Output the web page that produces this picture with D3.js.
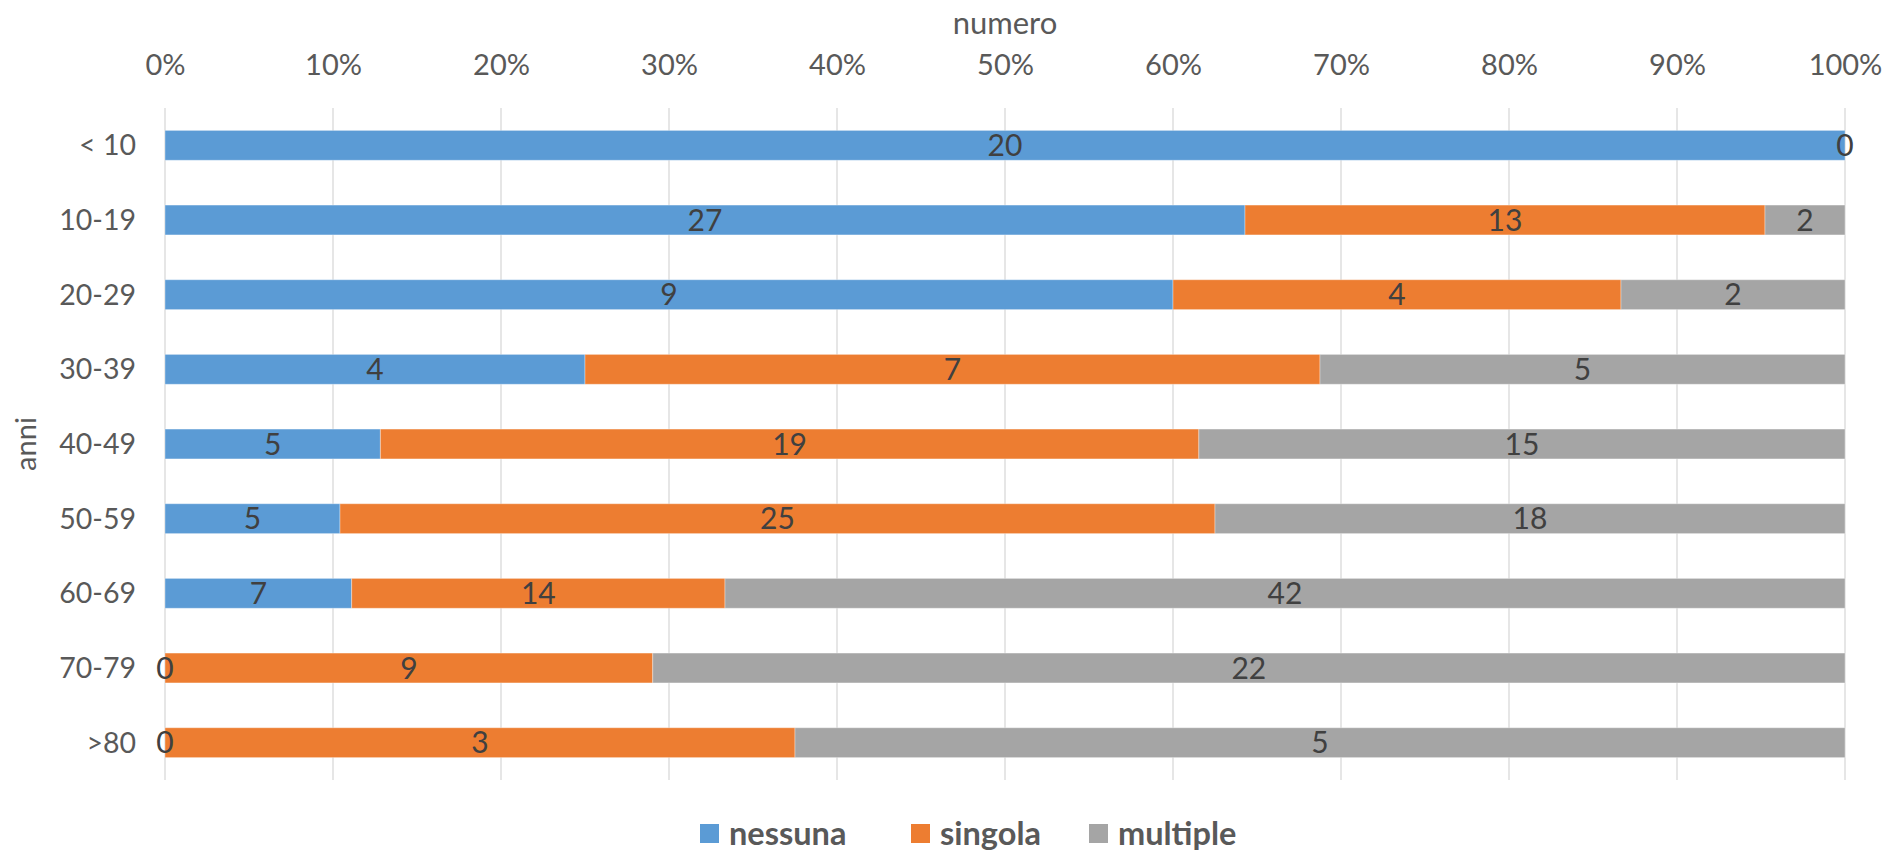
<!DOCTYPE html>
<html>
<head>
<meta charset="utf-8">
<script src="https://cdn.jsdelivr.net/npm/d3@7/dist/d3.min.js"></script>
<style>
  html, body { margin: 0; padding: 0; background: #fff; }
  svg { display: block; }
  text { font-family: Lato, "Open Sans", sans-serif; }
</style>
</head>
<body>
<svg id="chart" width="1888" height="852"></svg>
<script>
const categories = ["< 10", "10-19", "20-29", "30-39", "40-49", "50-59", "60-69", "70-79", ">80"];
const seriesNames = ["nessuna", "singola", "multiple"];
const nessuna  = [20, 27, 9, 4, 5, 5, 7, 0, 0];
const singola  = [null, 13, 4, 7, 19, 25, 14, 9, 3];
const multiple = [0, 2, 2, 5, 15, 18, 42, 22, 5];
const tickValues = [0, 0.1, 0.2, 0.3, 0.4, 0.5, 0.6, 0.7, 0.8, 0.9, 1.0];
const colors = ["#5B9BD5", "#ED7D31", "#A5A5A5"];
const xTitle = "numero";
const yTitle = "anni";

const seriesValues = [nessuna, singola, multiple];

const svg = d3.select("#chart");
const pLeft = 165, pRight = 1845, pTop = 108, pBottom = 780;

const x = d3.scaleLinear().domain([0, 1]).range([pLeft, pRight]);
const y = d3.scaleBand().domain(categories).range([pTop, pBottom]).paddingInner(0.6).paddingOuter(0.3);

// gridlines
svg.append("g").selectAll("line").data(tickValues).join("line")
  .attr("x1", d => x(d)).attr("x2", d => x(d))
  .attr("y1", pTop).attr("y2", pBottom)
  .attr("stroke", "#D9D9D9").attr("stroke-width", 1.3);

// top axis labels
const xAxis = d3.axisTop(x).tickValues(tickValues).tickFormat(d3.format(".0%")).tickSize(0).tickPadding(0);
const gx = svg.append("g").attr("transform", `translate(0,${pTop})`).call(xAxis);
gx.select(".domain").remove();
gx.selectAll("text")
  .attr("y", 65 - pTop).attr("dy", "0.35em")
  .attr("fill", "#595959").style("font-size", "29px").style("font-family", "Lato, sans-serif");

// left axis labels
const yAxis = d3.axisLeft(y).tickSize(0).tickPadding(0);
const gy = svg.append("g").attr("transform", `translate(${pLeft},0)`).call(yAxis);
gy.select(".domain").remove();
gy.selectAll("text")
  .attr("x", 136 - pLeft).attr("dy", "0.35em")
  .attr("fill", "#595959").style("font-size", "28.5px").style("font-family", "Lato, sans-serif");

// stacked percentage data
const rows = categories.map((c, i) => {
  const vals = seriesValues.map(s => s[i]);
  const total = d3.sum(vals, v => v || 0);
  let acc = 0;
  return vals.map((v, k) => {
    const x0 = acc / total;
    acc += (v || 0);
    return { cat: c, k, v, x0, x1: acc / total };
  });
});
const segs = rows.flat();

svg.append("g").selectAll("rect").data(segs.filter(d => d.v)).join("rect")
  .attr("x", d => x(d.x0))
  .attr("width", d => x(d.x1) - x(d.x0))
  .attr("y", d => y(d.cat))
  .attr("height", y.bandwidth())
  .attr("fill", d => colors[d.k])
  .attr("stroke", "#ffffff").attr("stroke-opacity", 0.35).attr("stroke-width", 1);

svg.append("g").selectAll("text").data(segs.filter(d => d.v !== null)).join("text")
  .attr("x", d => (x(d.x0) + x(d.x1)) / 2)
  .attr("y", d => y(d.cat) + y.bandwidth() / 2)
  .attr("dy", "0.36em")
  .attr("text-anchor", "middle")
  .attr("fill", "#404040")
  .style("font-size", "30px")
  .text(d => d.v);

// axis titles
svg.append("text").attr("x", (pLeft + pRight) / 2).attr("y", 23).attr("dy", "0.35em")
  .attr("text-anchor", "middle").attr("fill", "#595959").style("font-size", "31px").text(xTitle);
svg.append("text").attr("transform", `translate(26,${(pTop + pBottom) / 2}) rotate(-90)`)
  .attr("dy", "0.35em").attr("text-anchor", "middle").attr("fill", "#595959")
  .style("font-size", "29px").text(yTitle);

// legend
const legendX = [700, 911, 1089];
const lg = svg.append("g").selectAll("g").data(seriesNames).join("g")
  .attr("transform", (d, i) => `translate(${legendX[i]},834)`);
lg.append("rect").attr("x", 0).attr("y", -10).attr("width", 19).attr("height", 19)
  .attr("fill", (d, i) => colors[i]);
lg.append("text").attr("x", 29).attr("dy", "0.35em")
  .attr("fill", "#595959").style("font-size", "32.5px").style("font-weight", "bold").text(d => d);
</script>
</body>
</html>
